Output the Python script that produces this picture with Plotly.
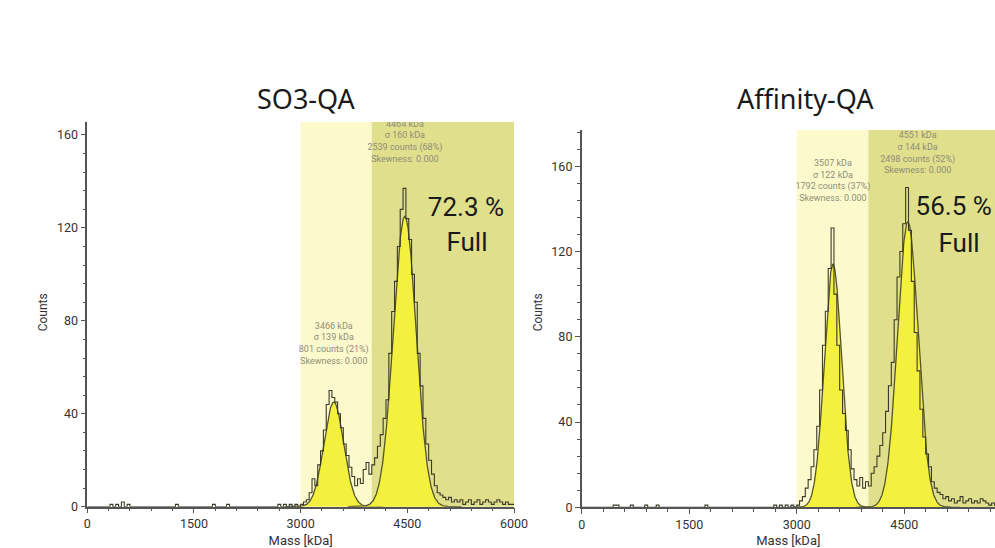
import numpy as np
import plotly.graph_objects as go

# ---------------- data ----------------
bin_width = 40          # kDa
hist_start = 3000       # first listed bin (kDa)

panel_titles = ["SO3-QA", "Affinity-QA"]
full_pct = ["72.3 %", "56.5 %"]

so3_counts = [1, 2, 3, 6, 12, 9, 18, 24, 33, 44, 50, 47, 45, 40, 34, 27, 22, 17, 13, 9,
              12, 10, 16, 19, 14, 18, 21, 26, 31, 38, 46, 66, 84, 97, 112, 128, 137, 124, 115, 100,
              88, 66, 52, 38, 27, 20, 14, 9, 6, 5, 4, 3, 4, 2, 3, 2, 3, 1, 2, 3,
              1, 2, 3, 1, 2, 3, 2, 1, 2, 3, 2, 1, 2, 1, 1]
aff_counts = [1, 3, 5, 9, 13, 19, 27, 38, 55, 76, 92, 112, 131, 100, 76, 55, 44, 36, 27, 18,
              13, 10, 14, 9, 12, 10, 16, 19, 24, 29, 35, 45, 57, 68, 88, 108, 120, 133, 150, 130,
              106, 82, 64, 46, 33, 25, 19, 12, 9, 7, 6, 4, 5, 3, 4, 2, 3, 5, 2, 3,
              4, 2, 3, 2, 4, 3, 2, 1, 2, 1, 1, 1, 1, 1, 1]

so3_low_mass = [340, 420, 500, 580, 1260, 1780, 1980, 2700, 2780, 2860, 2940]
so3_low_counts = [1, 1, 2, 1, 1, 1, 1, 1, 1, 1, 1]
aff_low_mass = [460, 500, 700, 900, 1040, 1720, 2700, 2780, 2860, 2940]
aff_low_counts = [1, 1, 1, 1, 1, 1, 1, 1, 1, 1]

so3_fit_mu = [3466, 4464]
so3_fit_sigma = [139, 160]
so3_fit_height = [45, 125]
aff_fit_mu = [3507, 4551]
aff_fit_sigma = [122, 144]
aff_fit_height = [114, 134]

so3_fit_text = ["3466 kDa<br>σ 139 kDa<br>801 counts (21%)<br>Skewness: 0.000",
                "4464 kDa<br>σ 160 kDa<br>2539 counts (68%)<br>Skewness: 0.000"]
aff_fit_text = ["3507 kDa<br>σ 122 kDa<br>1792 counts (37%)<br>Skewness: 0.000",
                "4551 kDa<br>σ 144 kDa<br>2498 counts (52%)<br>Skewness: 0.000"]

gate_edges = [3000, 4000, 6000]   # light gate, dark ("full") gate

# ---------------- styles ----------------
LIGHT = "#fcfacd"
DARK = "#e0df8c"
FIT_FILL = "#f4f13e"
FIT_LINE = "#55552a"
HIST_LINE = "#3a3a28"
AX = "#555555"
TXT = "#333333"
SMALL = "#8e8e78"
FONT = "Roboto, sans-serif"

fig = go.Figure()

panels = [
    dict(counts=so3_counts, low_m=so3_low_mass, low_c=so3_low_counts,
         mu=so3_fit_mu, sig=so3_fit_sigma, h=so3_fit_height, txt=so3_fit_text,
         xa="x", ya="y", text_pos=[(3466, 70), (4466, 157)],
         pct_pos=(5324, 128), full_pos=(5338, 113)),
    dict(counts=aff_counts, low_m=aff_low_mass, low_c=aff_low_counts,
         mu=aff_fit_mu, sig=aff_fit_sigma, h=aff_fit_height, txt=aff_fit_text,
         xa="x2", ya="y2", text_pos=[(3506, 153), (4688, 166)],
         pct_pos=(5190, 140), full_pos=(5265, 123)),
]

shapes = []
annotations = []
for i, p in enumerate(panels):
    # histogram
    n_bins = int(6000 / bin_width)
    counts = np.zeros(n_bins)
    for m, c in zip(p["low_m"], p["low_c"]):
        counts[int(m // bin_width)] = c
    first = int(hist_start // bin_width)
    counts[first:first + len(p["counts"])] = p["counts"]
    edges = np.arange(n_bins + 1) * bin_width
    yvals = np.append(counts, counts[-1])

    # gaussian fits
    for mu, s, h in zip(p["mu"], p["sig"], p["h"]):
        xs = np.linspace(mu - 5 * s, mu + 5 * s, 401)
        ys = h * np.exp(-0.5 * ((xs - mu) / s) ** 2)
        fig.add_trace(go.Scatter(x=xs, y=ys, mode="lines", fill="tozeroy",
                                 fillcolor=FIT_FILL, line=dict(color=FIT_LINE, width=1.3),
                                 xaxis=p["xa"], yaxis=p["ya"], showlegend=False,
                                 hoverinfo="skip"))
    fig.add_trace(go.Scatter(x=edges, y=yvals, mode="lines", line_shape="hv",
                             line=dict(color=HIST_LINE, width=1.1),
                             xaxis=p["xa"], yaxis=p["ya"], showlegend=False))

    # gate regions
    for (x0, x1), col in zip([(gate_edges[0], gate_edges[1]), (gate_edges[1], gate_edges[2])],
                             [LIGHT, DARK]):
        shapes.append(dict(type="rect", xref=p["xa"], yref=p["ya"] + " domain",
                           x0=x0, x1=x1, y0=0, y1=1, fillcolor=col,
                           line=dict(width=0), layer="below"))

    # fit info text (clipped to plot area like the original)
    fig.add_trace(go.Scatter(x=[tp[0] for tp in p["text_pos"]], y=[tp[1] for tp in p["text_pos"]],
                             mode="text", text=p["txt"], textposition="middle center",
                             textfont=dict(size=9, color=SMALL, family=FONT),
                             xaxis=p["xa"], yaxis=p["ya"], showlegend=False, hoverinfo="skip"))
    # gate percentage
    fig.add_trace(go.Scatter(x=[p["pct_pos"][0], p["full_pos"][0]],
                             y=[p["pct_pos"][1], p["full_pos"][1]],
                             mode="text", text=[full_pct[i], "Full"], textposition="middle center",
                             textfont=dict(size=26, color="#1a1a1a", family=FONT),
                             xaxis=p["xa"], yaxis=p["ya"], showlegend=False, hoverinfo="skip"))

# titles and y labels (paper coords, inside figure)
for title, xc in zip(panel_titles, [0.3085, 0.81]):
    annotations.append(dict(x=xc, y=0.821, xref="paper", yref="paper", text=title,
                            showarrow=False, font=dict(size=27, color="#1a1a1a", family="Noto Sans"),
                            xanchor="center", yanchor="middle"))
for xc in [0.0432, 0.5407]:
    annotations.append(dict(x=xc, y=0.43, xref="paper", yref="paper", text="Counts",
                            textangle=-90, showarrow=False,
                            font=dict(size=12, color=TXT, family=FONT),
                            xanchor="center", yanchor="middle"))

axis_common = dict(showline=True, linecolor=AX, linewidth=1.5, showgrid=False, zeroline=False,
                   ticks="outside", ticklen=5, tickwidth=1.2, tickcolor=AX, automargin=False,
                   tickfont=dict(size=12.5, color=TXT, family=FONT))
xtitle = dict(text="Mass [kDa]", font=dict(size=13, color=TXT, family=FONT))

fig.update_layout(
    width=995, height=548, margin=dict(l=0, r=0, t=0, b=0, autoexpand=False),
    paper_bgcolor="white", plot_bgcolor="white",
    xaxis=dict(domain=[0.0877, 0.5166], range=[0, 6000], dtick=1500, anchor="y", title=xtitle,
               minor=dict(dtick=300, ticks="outside", ticklen=3, tickcolor=AX), **axis_common),
    yaxis=dict(domain=[0.0754, 0.7774], range=[0, 165.6], dtick=40, anchor="x",
               minor=dict(dtick=8, ticks="outside", ticklen=3, tickcolor=AX), **axis_common),
    xaxis2=dict(domain=[0.5846, 1.0], range=[0, 5767], dtick=1500, anchor="y2", title=xtitle,
                minor=dict(dtick=300, ticks="outside", ticklen=3, tickcolor=AX), **axis_common),
    yaxis2=dict(domain=[0.0743, 0.7628], range=[0, 177], dtick=40, anchor="x2",
                minor=dict(dtick=8, ticks="outside", ticklen=3, tickcolor=AX), **axis_common),
    shapes=shapes, annotations=annotations, showlegend=False,
)

fig.write_html("out.html")
